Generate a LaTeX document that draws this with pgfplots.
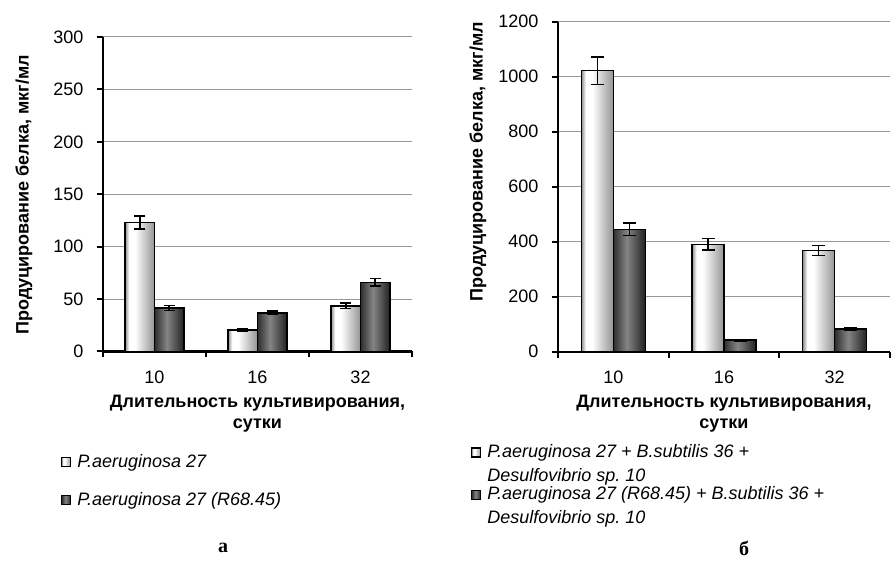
\documentclass[border=0pt]{standalone}
\usepackage{fontspec}
\setmainfont{Liberation Sans}
\newfontfamily\timesfont{Liberation Serif}
\usepackage{pgfplots}
\pgfplotsset{compat=1.18}
\frenchspacing

\definecolor{lbL}{gray}{0.55}
\definecolor{lbR}{gray}{0.58}
\definecolor{dbL}{gray}{0.18}
\definecolor{dbM}{gray}{0.52}
\definecolor{dbR}{gray}{0.13}
\definecolor{gridc}{gray}{0.6}

\pgfdeclarehorizontalshading{lightbar}{100bp}{color(0bp)=(lbL); color(25bp)=(lbL); color(32bp)=(white); color(42bp)=(white); color(75bp)=(lbR); color(100bp)=(lbR)}
\pgfdeclarehorizontalshading{darkbar}{100bp}{color(0bp)=(dbL); color(25bp)=(dbL); color(46bp)=(dbM); color(75bp)=(dbR); color(100bp)=(dbR)}

\pgfplotsset{
  mybars/.style={
    scale only axis,
    xmin=0.5, xmax=3.5, ymin=0,
    axis x line*=bottom, axis y line*=left,
    x axis line style={-, line width=2.2pt},
    y axis line style={-, line width=2.2pt},
    xtick={0.5,1.5,2.5,3.5}, xticklabels={},
    extra x ticks={1,2,3}, extra x tick labels={10,16,32},
    extra x tick style={tick style={draw=none}},
    tick align=outside, major tick length=6pt,
    tick style={line width=2pt, black},
    xtick pos=bottom, ytick pos=left,
    ymajorgrids, grid style={gridc, line width=1pt},
    /pgf/number format/assume math mode=true,
    /pgf/number format/1000 sep={},
    tick label style={font=\fontsize{18}{18}\selectfont},
    xticklabel style={yshift=-10pt},
    yticklabel style={xshift=-10pt},
    ylabel={Продуцирование белка, мкг/мл},
    xlabel={Длительность культивирования,\\сутки},
    xlabel style={font=\bfseries\fontsize{18}{21}\selectfont, align=center, at={(axis description cs:0.5,0)}, anchor=north, yshift=-40pt},
    legend style={draw=none, fill=none, inner sep=0pt, font=\itshape\fontsize{18}{22}\selectfont, legend cell align=left, anchor=north west},
    ybar=0pt,
    error bars/y dir=both, error bars/y explicit,
    error bars/error mark=-,
    error bars/error bar style={line width=1.6pt, black},
  },
  lbar/.style={draw=black, line width=1.6pt, shading=lightbar,
    legend image code/.code={\path[draw=black, line width=1.2pt, shading=lightbar] (0pt,-4.5pt+#1) rectangle (9pt,4.5pt+#1);}},
  dbar/.style={draw=black, line width=1.6pt, shading=darkbar,
    legend image code/.code={\path[draw=black, line width=1.2pt, shading=darkbar] (0pt,-4.5pt+#1) rectangle (9pt,4.5pt+#1);}},
  sh/.style={forget plot, every axis plot post/.append style={bar shift=#1}},
}

\begin{document}
\begin{tikzpicture}
\useasboundingbox (0pt,0pt) rectangle (896pt,567pt);
\begin{axis}[mybars,
  at={(103pt,215.5pt)}, anchor=south west,
  width=309pt, height=314.5pt,
  ymax=300, ytick={0,50,...,300},
  bar width=29.5pt,
  error bars/error mark options={rotate=90, mark size=5.5pt, line width=1.6pt, black},
  ylabel style={font=\bfseries\fontsize{18}{20}\selectfont, at={(axis description cs:-0.256,0.498)}, anchor=center},
  legend style={at={(axis description cs:-0.136,-0.32)}, row sep=20pt, /tikz/every odd column/.append style={column sep=4pt}},
]
\addlegendimage{lbar=0pt}
\addlegendentry{P.aeruginosa 27}
\addlegendimage{dbar=0pt}
\addlegendentry{P.aeruginosa 27 (R68.45)}
% light series: P.aeruginosa 27
\addplot[lbar=0pt, sh=-14.75pt] coordinates {(1,123) +- (0,6)};
\addplot[lbar=0pt, sh=-14.75pt] coordinates {(2,20.5) +- (0,1)};
\addplot[lbar=0pt, sh=-14.75pt] coordinates {(3,43.5) +- (0,2.5)};
% dark series: P.aeruginosa 27 (R68.45)
\addplot[dbar=0pt, sh=14.75pt] coordinates {(1,41.5) +- (0,2.5)};
\addplot[dbar=0pt, sh=14.75pt] coordinates {(2,37) +- (0,1.5)};
\addplot[dbar=0pt, sh=14.75pt] coordinates {(3,66) +- (0,3.5)};
\end{axis}

\begin{axis}[mybars,
  at={(558pt,215.3pt)}, anchor=south west,
  width=332pt, height=330pt,
  ymax=1200, ytick={0,200,...,1200},
  bar width=32pt,
  error bars/error mark options={rotate=90, mark size=6.5pt, line width=1.6pt, black},
  ylabel style={font=\bfseries\fontsize{18}{20}\selectfont, at={(axis description cs:-0.241,0.575)}, anchor=center},
  legend style={at={(axis description cs:-0.262,-0.2736)}, cells={align=left}, row sep=0pt, /tikz/every odd column/.append style={column sep=4pt}},
]
\addlegendimage{lbar=11pt}
\addlegendentry{P.aeruginosa 27 + B.subtilis 36 +\\[2pt]Desulfovibrio sp. 10}
\addlegendimage{dbar=11pt}
\addlegendentry{P.aeruginosa 27 (R68.45) + B.subtilis 36 +\\[2pt]Desulfovibrio sp. 10}
% light series
\addplot[lbar=0pt, sh=-16pt] coordinates {(1,1022) +- (0,50)};
\addplot[lbar=0pt, sh=-16pt] coordinates {(2,390) +- (0,21)};
\addplot[lbar=0pt, sh=-16pt] coordinates {(3,368) +- (0,18)};
% dark series
\addplot[dbar=0pt, sh=16pt] coordinates {(1,445) +- (0,23)};
\addplot[dbar=0pt, sh=16pt] coordinates {(2,42) +- (0,3)};
\addplot[dbar=0pt, sh=16pt] coordinates {(3,82) +- (0,4)};
\end{axis}

\node[font=\timesfont\bfseries\fontsize{20}{20}\selectfont] at (223pt,19pt) {а};
\node[font=\timesfont\bfseries\fontsize{20}{20}\selectfont] at (744pt,19pt) {б};
\end{tikzpicture}
\end{document}
